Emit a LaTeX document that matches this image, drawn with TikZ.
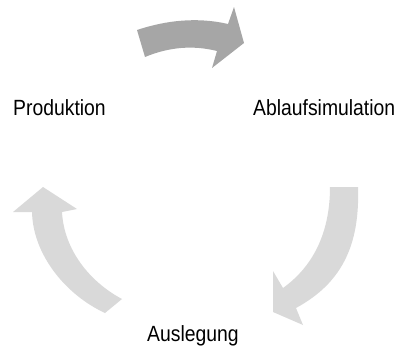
\documentclass[tikz,border=0pt]{standalone}
\usepackage{fontspec}
\setmainfont{Liberation Sans}
\definecolor{darkarrow}{HTML}{A6A6A6}
\definecolor{lightarrow}{HTML}{D9D9D9}
\begin{document}
\begin{tikzpicture}[x=1pt,y=-1pt,
  lbl/.style={inner sep=0pt, anchor=base west, font=\fontsize{22}{26}\selectfont, xscale=0.88},
  bigarrow/.style={draw=none}]
\useasboundingbox (0,0) rectangle (400,349);
% top arrow (dark)
\fill[darkarrow] (137,30) .. controls (167,20) and (198,17) .. (228,24)
  -- (234,7) -- (244,43) -- (212,68) -- (217,51)
  .. controls (193,45) and (169,47) .. (145,57) -- cycle;
% right arrow (light)
\fill[lightarrow] (330,187) -- (358,187)
  .. controls (360,245) and (342,283) .. (296,308)
  -- (303,325) -- (273,312) -- (273,271) -- (283,288)
  .. controls (315,265) and (330,230) .. (330,187) -- cycle;
% left arrow (light)
\fill[lightarrow] (122,299) .. controls (90,282) and (64,250) .. (62,212)
  -- (77,209) -- (43,187) -- (13,212) -- (32,212)
  .. controls (33,255) and (66,295) .. (105,313) -- cycle;
\node[lbl] (prod) at (13,115) {Produktion};
\node[lbl] (ablauf) at (253,115) {Ablaufsimulation};
\node[lbl] (ausl) at (147,341) {Auslegung};
\end{tikzpicture}
\end{document}
